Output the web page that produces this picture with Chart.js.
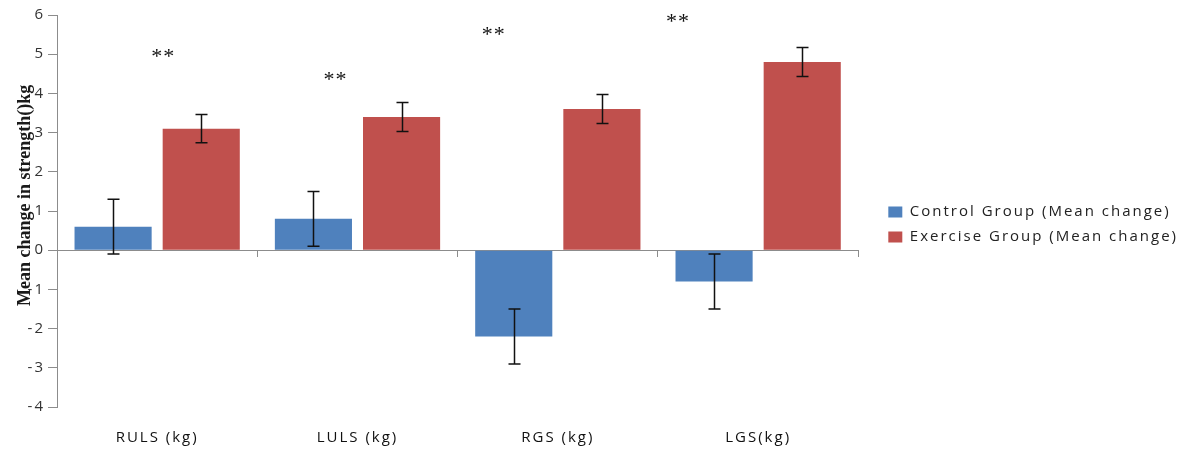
<!DOCTYPE html>
<html>
<head>
<meta charset="utf-8">
<script src="https://cdn.jsdelivr.net/npm/chart.js@4.4.0/dist/chart.umd.min.js"></script>
<style>
  html, body { margin: 0; padding: 0; background: #fff; }
  #wrap { width: 1192px; height: 450px; position: relative; }
</style>
</head>
<body>
<div id="wrap"><canvas id="strengthChart"></canvas></div>
<script>
const categories = ["RULS (kg)", "LULS (kg)", "RGS (kg)", "LGS(kg)"];
const controlMean = [0.6, 0.8, -2.2, -0.8];
const controlErr = [0.7, 0.7, 0.7, 0.7];
const exerciseMean = [3.1, 3.4, 3.6, 4.8];
const exerciseErr = [0.36, 0.37, 0.37, 0.37];
const yTicks = [-4, -3, -2, -1, 0, 1, 2, 3, 4, 5, 6];
// significance marks: position given in category index / y value
const starText = ["**", "**", "**", "**"];
const starX = [0.03, 0.89, 1.68, 2.6];
const starY = [5.03, 4.44, 5.59, 5.92];

const AXIS_GRAY = "#8c8c8c";
const LABEL_FONT = "'Open Sans', 'Liberation Sans', sans-serif";

// the original text is rather widely spaced
const spacing = {
  id: "spacing",
  beforeLayout(chart) { chart.ctx.letterSpacing = "2px"; },
  beforeDraw(chart) { chart.ctx.letterSpacing = "2px"; }
};

// draws the +/- error bars on top of each bar
const errorBars = {
  id: "errorBars",
  afterDatasetsDraw(chart) {
    const ctx = chart.ctx;
    const y = chart.scales.y;
    const errs = [controlErr, exerciseErr];
    const means = [controlMean, exerciseMean];
    ctx.save();
    ctx.strokeStyle = "#111";
    ctx.lineWidth = 1.5;
    chart.data.datasets.forEach((ds, i) => {
      const meta = chart.getDatasetMeta(i);
      meta.data.forEach((bar, j) => {
        const top = y.getPixelForValue(means[i][j] + errs[i][j]);
        const bot = y.getPixelForValue(means[i][j] - errs[i][j]);
        const x = Math.round(bar.x) + 0.5;
        ctx.beginPath();
        ctx.moveTo(x, top); ctx.lineTo(x, bot);
        ctx.moveTo(x - 6, top); ctx.lineTo(x + 6, top);
        ctx.moveTo(x - 6, bot); ctx.lineTo(x + 6, bot);
        ctx.stroke();
      });
    });
    ctx.restore();
  }
};

// asterisks and the y-axis title (which overlaps the tick labels)
const annotations = {
  id: "annotations",
  afterDraw(chart) {
    const ctx = chart.ctx;
    const x = chart.scales.x, y = chart.scales.y;
    ctx.save();
    ctx.fillStyle = "#111";
    ctx.letterSpacing = "1px";
    ctx.font = "22px 'Liberation Serif', serif";
    ctx.textAlign = "center";
    ctx.textBaseline = "middle";
    starText.forEach((t, i) => {
      ctx.fillText(t, x.getPixelForValue(starX[i]), y.getPixelForValue(starY[i]) + 4);
    });

    const area = chart.chartArea;
    ctx.letterSpacing = "0px";
    ctx.translate(area.left - 32, y.getPixelForValue(1.4));
    ctx.rotate(-Math.PI / 2);
    ctx.font = "bold 18px 'Liberation Serif', serif";
    ctx.fillStyle = "#1a1a1a";
    ctx.fillText("Mean change in strength()kg", 0, 0);
    ctx.restore();
  }
};

new Chart(document.getElementById("strengthChart"), {
  type: "bar",
  data: {
    labels: categories,
    datasets: [
      {
        label: "Control Group (Mean change)",
        data: controlMean,
        backgroundColor: "#4f81bd",
        categoryPercentage: 0.88,
        barPercentage: 0.875
      },
      {
        label: "Exercise Group (Mean change)",
        data: exerciseMean,
        backgroundColor: "#c0504d",
        categoryPercentage: 0.88,
        barPercentage: 0.875
      }
    ]
  },
  options: {
    responsive: true,
    maintainAspectRatio: false,
    animation: false,
    layout: { padding: { top: 15, right: 4, bottom: 0, left: 0 } },
    plugins: {
      tooltip: { enabled: false },
      legend: {
        position: "right",
        align: "start",
        maxWidth: 340,
        title: { display: true, text: " ", font: { size: 2 }, padding: { top: 177, bottom: 0 } },
        labels: {
          boxWidth: 14,
          boxHeight: 11,
          padding: 10,
          color: "#222",
          font: { family: LABEL_FONT, size: 15 }
        }
      }
    },
    scales: {
      x: {
        position: { y: 0 },
        grid: { drawOnChartArea: false, tickLength: 6, color: AXIS_GRAY },
        border: { color: AXIS_GRAY },
        ticks: { display: false }
      },
      x2: {
        type: "category",
        labels: categories,
        position: "bottom",
        grid: { display: false },
        border: { display: false },
        ticks: { padding: 14, color: "#111", font: { family: LABEL_FONT, size: 15 } },
        afterFit(scale) { scale.height = 43; }
      },
      y: {
        min: -4,
        max: 6,
        afterBuildTicks(scale) { scale.ticks = yTicks.map(v => ({ value: v })); },
        grid: { drawOnChartArea: false, tickLength: 9, color: AXIS_GRAY },
        border: { color: AXIS_GRAY },
        ticks: { padding: 3, color: "#333", font: { family: LABEL_FONT, size: 15 } },
        afterFit(scale) { scale.width = 57; }
      },
      // empty spacer between plot and legend
      gap: {
        type: "linear",
        position: "right",
        grid: { display: false },
        border: { display: false },
        ticks: { display: false },
        afterFit(scale) { scale.width = 20; }
      }
    }
  },
  plugins: [spacing, errorBars, annotations]
});
</script>
</body>
</html>
